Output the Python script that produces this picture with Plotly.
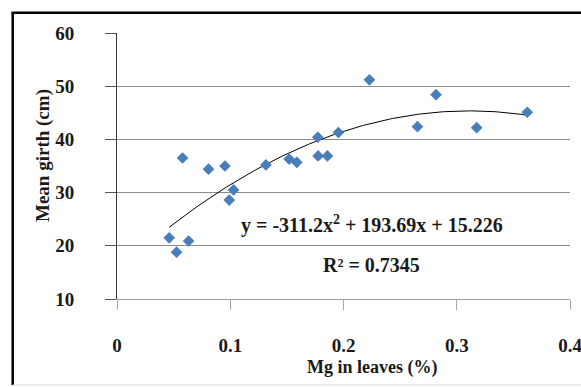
import numpy as np
import plotly.graph_objects as go

# Data
mg_leaves = [0.0461, 0.0526, 0.0579, 0.0632, 0.0808, 0.0953, 0.0991, 0.1029,
             0.1315, 0.1520, 0.1588, 0.1773, 0.1776, 0.1858, 0.1955, 0.2229,
             0.2653, 0.2817, 0.3176, 0.3623]
mean_girth = [21.5, 18.8, 36.5, 20.9, 34.4, 35.0, 28.6, 30.5,
              35.2, 36.3, 35.7, 40.4, 36.9, 36.9, 41.3, 51.2,
              42.4, 48.4, 42.2, 45.1]

# Polynomial trendline coefficients as printed in the chart
trend_coeffs = [-311.2, 193.69, 15.226]
equation_text = "y = -311.2x<sup>2</sup> + 193.69x + 15.226"
r2_text = "R² = 0.7345"

x_title = "Mg in leaves (%)"
y_title = "Mean girth (cm)"
x_ticks = [0, 0.1, 0.2, 0.3, 0.4]
x_ticktext = ["0", "0.1", "0.2", "0.3", "0.4"]
y_ticks = [10, 20, 30, 40, 50, 60]

FONT = "Liberation Serif"
TXT = "#1a1a1a"

trend_x = np.linspace(min(mg_leaves), max(mg_leaves), 200)
trend_y = np.polyval(trend_coeffs, trend_x)

fig = go.Figure()
fig.add_trace(go.Scatter(
    x=trend_x, y=trend_y, mode="lines",
    line=dict(color="#000000", width=1), hoverinfo="skip", showlegend=False))
fig.add_trace(go.Scatter(
    x=mg_leaves, y=mean_girth, mode="markers",
    marker=dict(symbol="diamond", size=9, color="#4A7EBB"),
    showlegend=False))

W, H = 581, 387
L, R, T, B = 117, 11, 33, 88
pw = W - L - R
ph = H - T - B


def px_x(p):
    return (p - L) / pw


def px_y(p):
    return (H - B - p) / ph


fig.update_layout(
    width=W, height=H,
    margin=dict(l=L, r=R, t=T, b=B, pad=0, autoexpand=False),
    paper_bgcolor="white", plot_bgcolor="white",
    font=dict(family=FONT, size=18, color=TXT),
    xaxis=dict(range=[0, 0.4], tickvals=x_ticks, ticktext=x_ticktext,
               showgrid=False, zeroline=False, automargin=False,
               showline=True, linecolor="#a6a6a6", linewidth=1,
               ticks="outside", ticklen=10, tickcolor="#a6a6a6",
               tickfont=dict(family=FONT, size=19, color=TXT, weight="bold"),
               ticklabelstandoff=19, ticklabeloverflow="allow"),
    yaxis=dict(range=[10, 60], tickvals=y_ticks,
               showgrid=True, gridcolor="#8c8c8c", gridwidth=1,
               zeroline=False, automargin=False,
               showline=True, linecolor="#333333", linewidth=1,
               ticks="outside", ticklen=11, tickcolor="#555555",
               tickfont=dict(family=FONT, size=19, color=TXT, weight="bold"),
               ticklabelstandoff=27, ticklabeloverflow="allow"),
    annotations=[
        dict(text="<b>" + equation_text + "</b>", x=0.2248, y=23.97,
             xref="x", yref="y", showarrow=False,
             font=dict(family=FONT, size=20, color=TXT)),
        dict(text="<b>" + r2_text + "</b>", x=0.2248, y=16.3,
             xref="x", yref="y", showarrow=False,
             font=dict(family=FONT, size=20, color=TXT)),
        dict(text="<b>" + x_title + "</b>", x=px_x(371.5), y=px_y(367),
             xref="paper", yref="paper", yanchor="middle", xanchor="center",
             showarrow=False, font=dict(family=FONT, size=18, color=TXT)),
        dict(text="<b>" + y_title + "</b>", x=px_x(43), y=px_y(156),
             xref="paper", yref="paper", textangle=-90,
             xanchor="center", yanchor="middle",
             showarrow=False, font=dict(family=FONT, size=19, color=TXT)),
    ],
    shapes=[
        dict(type="line", xref="paper", yref="paper", layer="above",
             x0=px_x(12.7), x1=px_x(12.7), y0=px_y(385), y1=px_y(12.7),
             line=dict(color="black", width=2.5)),
        dict(type="line", xref="paper", yref="paper", layer="above",
             x0=px_x(11.5), x1=px_x(590), y0=px_y(12.7), y1=px_y(12.7),
             line=dict(color="black", width=2.5)),
        dict(type="line", xref="paper", yref="paper", layer="above",
             x0=px_x(12.7), x1=px_x(590), y0=px_y(385), y1=px_y(385),
             line=dict(color="#d9d9d9", width=1)),
    ],
)

fig.write_html("out.html",
               config={"displayModeBar": False},
               post_script="document.body.style.margin='0';"
                           "document.body.style.overflow='hidden';")
